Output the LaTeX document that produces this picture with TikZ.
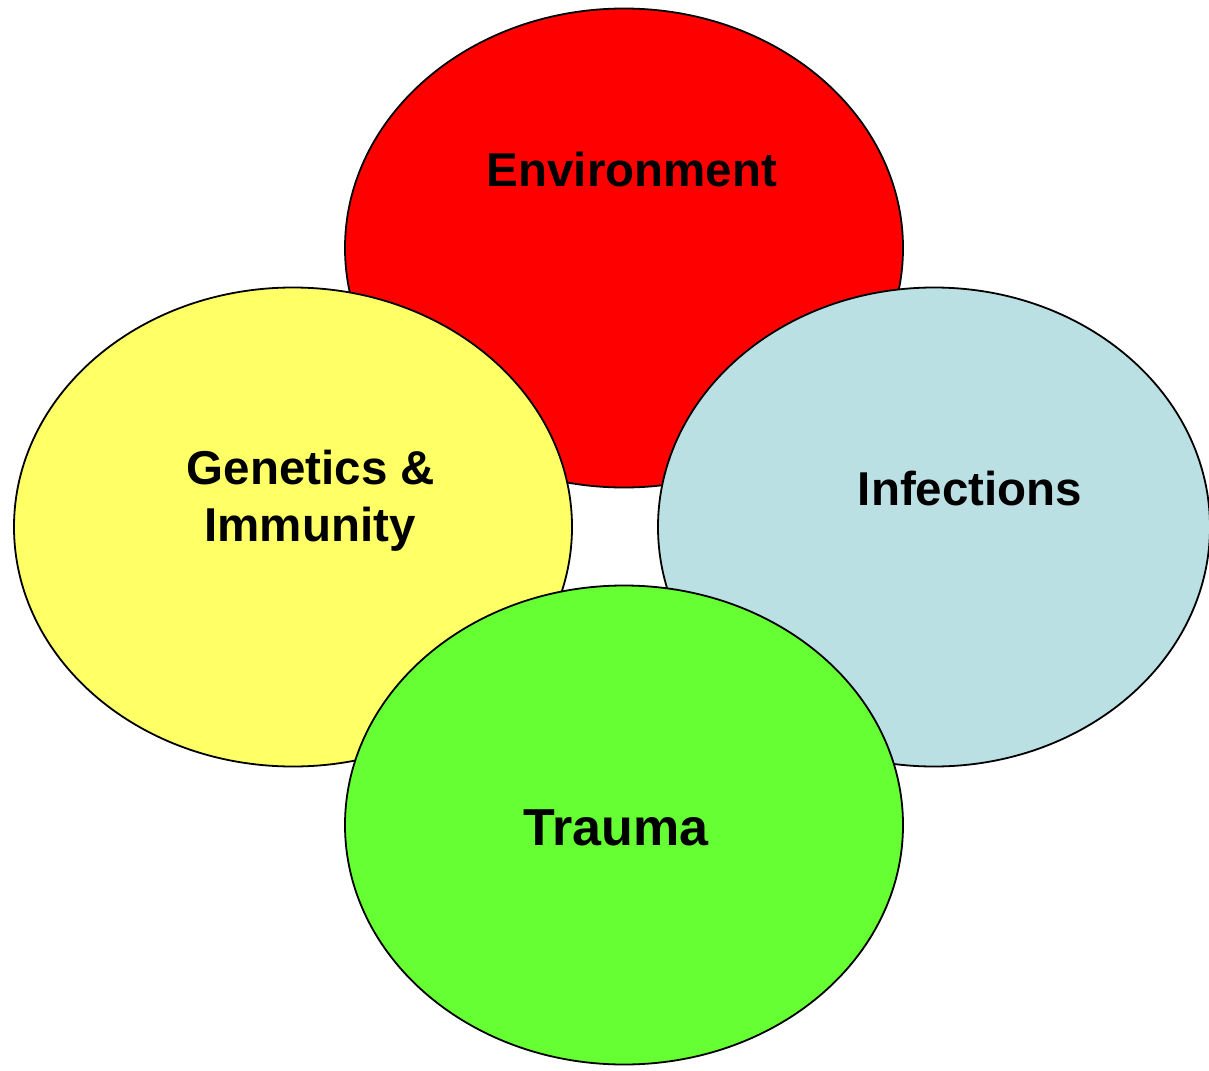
\documentclass[tikz,border=0pt]{standalone}
\usepackage{fontspec}
\setmainfont{Liberation Sans}
\usetikzlibrary{shapes.geometric}
\definecolor{envred}{HTML}{FF0000}
\definecolor{genyellow}{HTML}{FFFF66}
\definecolor{infblue}{HTML}{BBE0E3}
\definecolor{traugreen}{HTML}{66FF33}
\begin{document}
\begin{tikzpicture}[x=1pt,y=-1pt,
  blob/.style={ellipse, draw=black, line width=1.8pt, inner sep=0pt, outer sep=0pt,
    minimum width=558pt, minimum height=479pt},
  lbl/.style={anchor=base, font=\bfseries\fontsize{47.5}{57}\selectfont, inner sep=0pt}]
  \useasboundingbox (0,0) rectangle (1209,1070);
  % overlapping ellipses, back to front
  \node[blob, fill=envred] (env) at (624,248) {};
  \node[blob, fill=genyellow] (gen) at (293,527) {};
  \node[blob, fill=infblue, minimum width=552pt] (inf) at (934,527) {};
  \node[blob, fill=traugreen] (tra) at (624,825) {};
  % labels
  \node[lbl] (envtxt) at (632,186) {Environment};
  \node[lbl] (gentxt1) at (311,484) {Genetics \&};
  \node[lbl] (gentxt2) at (310,541) {Immunity};
  \node[lbl] (inftxt) at (970,505) {Infections};
  \node[lbl, font=\bfseries\fontsize{52}{62}\selectfont] (tratxt) at (616,845) {Trauma};
\end{tikzpicture}
\end{document}
